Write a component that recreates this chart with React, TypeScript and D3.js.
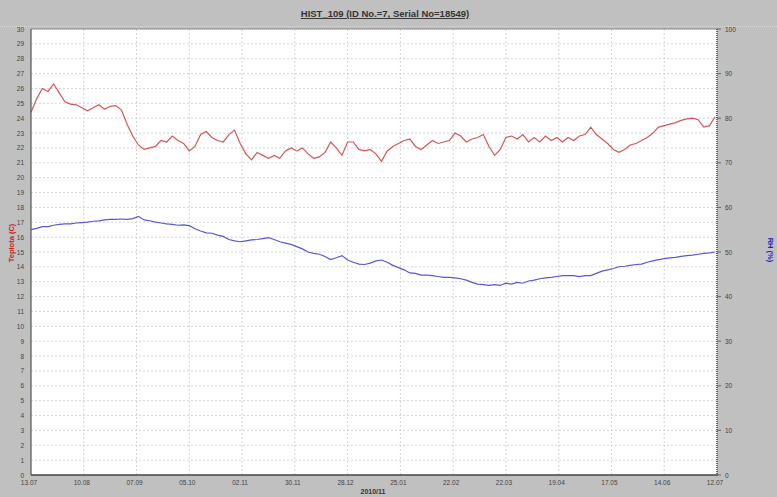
import React from 'react';
import * as d3 from 'd3';

// chart data, sampled every 3 days from 13.07.2009
const title = 'HIST_109 (ID No.=7, Serial No=18549)';
const startDate = new Date(2009, 6, 13);
const endDate = new Date(2010, 6, 12);
const stepDays = 3;

const temperature = [
    24.4, 25.3, 26.0, 25.8, 26.3, 25.7, 25.1, 24.95, 24.9, 24.7,
    24.5, 24.7, 24.9, 24.6, 24.8, 24.85, 24.55, 23.6, 22.8, 22.2,
    21.9, 22.0, 22.1, 22.5, 22.4, 22.8, 22.5, 22.3, 21.8, 22.1,
    22.9, 23.1, 22.7, 22.5, 22.4, 22.9, 23.2, 22.3, 21.6, 21.2,
    21.7, 21.5, 21.3, 21.5, 21.3, 21.8, 22.0, 21.8, 22.0, 21.6,
    21.3, 21.4, 21.7, 22.4, 22.0, 21.5, 22.4, 22.4, 21.9, 21.8,
    21.9, 21.6, 21.1, 21.8, 22.1, 22.3, 22.5, 22.6, 22.1, 21.9,
    22.2, 22.5, 22.3, 22.4, 22.5, 23.0, 22.8, 22.4, 22.6, 22.7,
    22.9, 22.1, 21.5, 21.9, 22.7, 22.8, 22.6, 22.9, 22.4, 22.7,
    22.4, 22.8, 22.5, 22.7, 22.4, 22.7, 22.5, 22.8, 22.9, 23.4,
    22.9, 22.6, 22.3, 21.9, 21.7, 21.9, 22.2, 22.3, 22.5, 22.7,
    23.0, 23.4, 23.5, 23.6, 23.7, 23.85, 23.95, 24.0, 23.9, 23.4,
    23.5, 24.1
];

const humidity = [
    55.0, 55.3, 55.7, 55.7, 56.0, 56.2, 56.3, 56.3, 56.5, 56.6,
    56.7, 56.9, 57.0, 57.2, 57.3, 57.3, 57.4, 57.3, 57.5, 58.0,
    57.2, 57.0, 56.7, 56.5, 56.3, 56.2, 56.0, 56.1, 55.9, 55.2,
    54.7, 54.3, 54.2, 53.8, 53.5, 52.8, 52.5, 52.3, 52.5, 52.7,
    52.8, 53.0, 53.2, 52.8, 52.3, 52.0, 51.7, 51.2, 50.7, 50.0,
    49.7, 49.5, 49.0, 48.3, 48.7, 49.2, 48.2, 47.7, 47.3, 47.2,
    47.5, 48.0, 48.2, 47.7, 47.0, 46.5, 46.0, 45.3, 45.2, 44.8,
    44.8, 44.7, 44.5, 44.3, 44.3, 44.2, 44.0, 43.7, 43.2, 42.8,
    42.7, 42.5, 42.7, 42.5, 43.0, 42.8, 43.2, 43.0, 43.5, 43.7,
    44.0, 44.2, 44.3, 44.5, 44.7, 44.7, 44.7, 44.5, 44.7, 44.7,
    45.2, 45.7, 46.0, 46.3, 46.7, 46.8, 47.0, 47.2, 47.3, 47.7,
    48.0, 48.3, 48.5, 48.7, 48.8, 49.0, 49.2, 49.3, 49.5, 49.7,
    49.8, 50.0
];

const leftTicks = d3.range(0, 31);
const rightTicks = d3.range(0, 101, 10);

const W = 777, H = 497;
const m = { left: 31, right: 717, top: 29, bottom: 475 };
const font = '"Liberation Sans", Arial, sans-serif';

export default function App() {
    const x = d3.scaleTime().domain([startDate, endDate]).range([m.left, m.right]);
    const yL = d3.scaleLinear().domain([0, 30]).range([m.bottom, m.top]);
    const yR = d3.scaleLinear().domain([0, 100]).range([m.bottom, m.top]);
    const xTicks = d3.range(0, 14).map(k => d3.timeDay.offset(startDate, k * 28));
    const fmt = d3.timeFormat('%d.%m');
    const dateAt = (i: number) => d3.timeDay.offset(startDate, i * stepDays);

    const tempLine = d3.line<number>().x((d, i) => x(dateAt(i))).y(d => yL(d));
    const humLine = d3.line<number>().x((d, i) => x(dateAt(i))).y(d => yR(d));

    return (
        <svg width={W} height={H} style={{ position: 'fixed', left: 0, top: 0, fontFamily: font }}>
            <rect width={W} height={H} fill="#c0c0c0" />
            <line x1={0} x2={W} y1={26.5} y2={26.5} stroke="#d8d8d8" strokeDasharray="1,1" />
            <text x={385} y={17} textAnchor="middle" fontSize={9.5} fontWeight="bold" fill="#333" textDecoration="underline">{title}</text>

            <rect x={m.left} y={m.top} width={m.right - m.left} height={m.bottom - m.top} fill="#fff" />

            {/* grid */}
            {leftTicks.filter(t => t > 0 && t < 30).map(t => (
                <line key={'h' + t} x1={m.left} x2={m.right} y1={yL(t)} y2={yL(t)} stroke="#d4d4d4" strokeDasharray="2,2" />
            ))}
            {xTicks.slice(1, -1).map((d, k) => (
                <line key={'v' + k} x1={x(d)} x2={x(d)} y1={m.top} y2={m.bottom} stroke="#d4d4d4" strokeDasharray="2,2" />
            ))}

            <path d={tempLine(temperature) || ''} fill="none" stroke="#d04444" strokeWidth={1.2} strokeOpacity={0.9} />
            <path d={humLine(humidity) || ''} fill="none" stroke="#4646d0" strokeWidth={1.2} strokeOpacity={0.9} />

            {/* axes */}
            <line x1={m.left} x2={m.right} y1={m.top} y2={m.top} stroke="#888" />
            <line x1={m.left} x2={m.left} y1={m.top} y2={m.bottom} stroke="#555" strokeWidth={1.2} />
            <line x1={m.left} x2={m.right + 1} y1={m.bottom} y2={m.bottom} stroke="#444" strokeWidth={1.5} />
            <line x1={m.right} x2={m.right} y1={m.top} y2={m.bottom} stroke="#666" strokeWidth={2} strokeDasharray="1,1" />

            {leftTicks.map(t => (
                <text key={'l' + t} x={24} y={yL(t) + 2.5} textAnchor="end" fontSize={6.5} fill="#444">{t}</text>
            ))}
            {rightTicks.map(t => (
                <g key={'r' + t}>
                    <line x1={m.right} x2={m.right + 4} y1={yR(t)} y2={yR(t)} stroke="#666" />
                    <text x={725} y={yR(t) + 2.5} fontSize={6.5} fill="#444">{t}</text>
                </g>
            ))}
            {xTicks.map((d, k) => (
                <text key={'x' + k} x={x(d) - 2} y={485} textAnchor="middle" fontSize={6.5} fill="#444">{fmt(d)}</text>
            ))}
            <text x={373} y={494} textAnchor="middle" fontSize={7} fontWeight="bold" fill="#333">2010/11</text>

            <text transform="translate(14,243) rotate(-90)" textAnchor="middle" fontSize={7.5} fontWeight="bold" fill="#cc2020">Teplota (C)</text>
            <text transform="translate(768,250) rotate(90)" textAnchor="middle" fontSize={7.5} fontWeight="bold" fill="#2020cc">RH (%)</text>
        </svg>
    );
}
